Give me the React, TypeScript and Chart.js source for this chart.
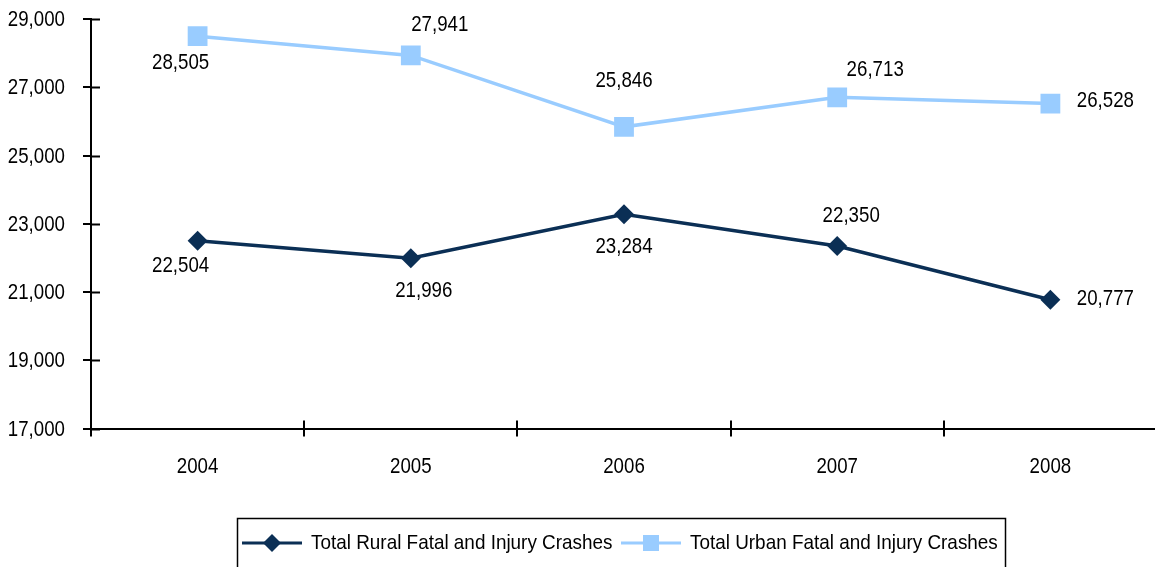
import React, { useEffect, useRef } from "react";
import { Chart, registerables } from "chart.js";

Chart.register(...registerables);

const years = ["2004", "2005", "2006", "2007", "2008"];
const ruralValues = [22504, 21996, 23284, 22350, 20777];
const urbanValues = [28505, 27941, 25846, 26713, 26528];
const ruralName = "Total Rural Fatal and Injury Crashes";
const urbanName = "Total Urban Fatal and Injury Crashes";

// label offsets (dx, dy) relative to each point
const ruralLabelOffsets = [[-17, 25], [13, 33], [0, 33], [14, -30], [55, -1]];
const urbanLabelOffsets = [[-17, 27], [29, -30], [0, -46], [38, -27], [55, -3]];

const NAVY = "#0B2F55";
const LIGHT = "#99CCFF";
const FONT = "'Liberation Sans', Arial, sans-serif";
const SX = 0.85; // horizontal squeeze to imitate a narrow face

const fmt = (v: number) => v.toLocaleString("en-US");

function narrowText(ctx: any, text: string, x: number, y: number, align: string, size: number, sx = SX) {
  ctx.save();
  ctx.font = `${size}px ${FONT}`;
  ctx.fillStyle = "#000";
  ctx.textBaseline = "middle";
  ctx.textAlign = align;
  ctx.translate(x, y);
  ctx.scale(sx, 1);
  ctx.fillText(text, 0, 0);
  ctx.restore();
}

export default function App() {
  const ref = useRef<HTMLCanvasElement | null>(null);
  useEffect(() => {
    if (!ref.current) return;
    const axisDecor = {
      id: "axisDecor",
      afterDatasetsDraw(chart: any) {
        const { ctx, chartArea, scales } = chart;
        ctx.save();
        ctx.strokeStyle = "#000";
        ctx.lineWidth = 2;
        const y = scales.y;
        y.ticks.forEach((t: any, i: number) => {
          const py = Math.round(y.getPixelForTick(i)) + 0.5;
          ctx.beginPath();
          ctx.moveTo(chartArea.left, py);
          ctx.lineTo(chartArea.left + 9, py);
          ctx.stroke();
          narrowText(ctx, fmt(Number(t.value)), chartArea.left - 26, py, "right", 22);
        });
        const x = scales.x;
        for (let i = 0; i <= years.length; i++) {
          const px = Math.round(x.left + (i * (x.right - x.left)) / years.length);
          ctx.beginPath();
          ctx.moveTo(px, chartArea.bottom);
          ctx.lineTo(px, chartArea.bottom - 8);
          ctx.stroke();
        }
        x.ticks.forEach((_t: any, i: number) => {
          const px = x.getPixelForTick(i);
          narrowText(ctx, String(x.getLabelForValue(i)), px, chartArea.bottom + 38, "center", 22);
        });
        ctx.restore();
      },
    };
    const labels = {
      id: "valueLabels",
      afterDatasetsDraw(chart: any) {
        const { ctx } = chart;
        const sets = [
          { vals: ruralValues, offs: ruralLabelOffsets, idx: 0 },
          { vals: urbanValues, offs: urbanLabelOffsets, idx: 1 },
        ];
        sets.forEach((s) => {
          const meta = chart.getDatasetMeta(s.idx);
          meta.data.forEach((pt: any, i: number) => {
            narrowText(ctx, fmt(s.vals[i]), pt.x + s.offs[i][0], pt.y + s.offs[i][1], "center", 22);
          });
        });
      },
    };
    const legend = {
      id: "customLegend",
      afterDraw(chart: any) {
        const { ctx } = chart;
        ctx.save();
        ctx.strokeStyle = "#000";
        ctx.lineWidth = 1.5;
        ctx.strokeRect(237.5, 518.5, 768, 60);
        const items = [
          { name: ruralName, color: NAVY, x: 242, shape: "diamond" },
          { name: urbanName, color: LIGHT, x: 621, shape: "square" },
        ];
        const cy = 543;
        items.forEach((it) => {
          ctx.strokeStyle = it.color;
          ctx.lineWidth = 3;
          ctx.beginPath();
          ctx.moveTo(it.x, cy);
          ctx.lineTo(it.x + 60, cy);
          ctx.stroke();
          ctx.fillStyle = it.color;
          const cx = it.x + 30;
          ctx.beginPath();
          if (it.shape === "diamond") {
            ctx.moveTo(cx - 9, cy);
            ctx.lineTo(cx, cy - 9);
            ctx.lineTo(cx + 9, cy);
            ctx.lineTo(cx, cy + 9);
            ctx.closePath();
          } else {
            ctx.rect(cx - 8, cy - 8, 16, 16);
          }
          ctx.fill();
          narrowText(ctx, it.name, it.x + 69, cy, "left", 21, 0.9);
        });
        ctx.restore();
      },
    };
    const chart = new Chart(ref.current, {
      type: "line",
      data: {
        labels: years,
        datasets: [
          {
            label: ruralName,
            data: ruralValues,
            borderColor: NAVY,
            backgroundColor: NAVY,
            borderWidth: 3.5,
            pointStyle: "rectRot",
            pointRadius: 10,
            pointHoverRadius: 10,
            pointBorderWidth: 0,
            tension: 0,
          },
          {
            label: urbanName,
            data: urbanValues,
            borderColor: LIGHT,
            backgroundColor: LIGHT,
            borderWidth: 3.5,
            pointStyle: "rect",
            pointRadius: 14,
            pointHoverRadius: 14,
            pointBorderWidth: 0,
            tension: 0,
          },
        ],
      },
      options: {
        animation: false,
        responsive: false,
        maintainAspectRatio: false,
        layout: { padding: { top: 19.3, right: 14, left: 0, bottom: 0 } },
        plugins: { legend: { display: false }, tooltip: { enabled: false } },
        scales: {
          x: {
            type: "category",
            offset: true,
            grid: { offset: true, drawOnChartArea: false, color: "#000", lineWidth: 2, tickLength: 8 },
            border: { color: "#000", width: 2 },
            ticks: { color: "rgba(0,0,0,0)", font: { family: FONT, size: 1 }, padding: 0, maxRotation: 0 },
            afterFit: (s: any) => { s.height = 138.5; },
          },
          y: {
            min: 17000,
            max: 29000,
            grid: { drawOnChartArea: false, color: "#000", lineWidth: 2, tickLength: 8 },
            border: { color: "#000", width: 2 },
            ticks: {
              stepSize: 2000,
              color: "rgba(0,0,0,0)",
              font: { family: FONT, size: 1 },
              padding: 0,
            },
            afterFit: (s: any) => { s.width = 91; },
          },
        },
      },
      plugins: [axisDecor, labels, legend],
    });
    return () => chart.destroy();
  }, []);
  return (
    <div style={{ position: "fixed", left: 0, top: 0, width: 1155, height: 567, overflow: "hidden", background: "#fff" }}>
      <canvas ref={ref} width={1171} height={567} style={{ display: "block" }} />
    </div>
  );
}
